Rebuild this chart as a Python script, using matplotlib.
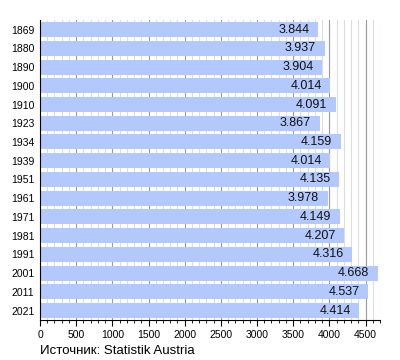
import matplotlib
matplotlib.use("Agg")
import matplotlib.pyplot as plt
from matplotlib.ticker import MultipleLocator

years = ["1869", "1880", "1890", "1900", "1910", "1923", "1934", "1939",
         "1951", "1961", "1971", "1981", "1991", "2001", "2011", "2021"]
population = [3844, 3937, 3904, 4014, 4091, 3867, 4159, 4014,
              4135, 3978, 4149, 4207, 4316, 4668, 4537, 4414]
xticks = [0, 500, 1000, 1500, 2000, 2500, 3000, 3500, 4000, 4500]

plt.rcParams['font.family'] = ['Liberation Sans', 'DejaVu Sans']

fig = plt.figure(figsize=(4, 3.6), dpi=100)
ax = fig.add_axes([0.1, 0.111, 0.85, 0.833])

n = len(years)
ypos = list(range(n))
ax.barh(ypos, population, height=0.8, color="#b3c8fc", zorder=2)
for y, v in zip(ypos, population):
    lbl = f"{v // 1000}.{v % 1000:03d}"
    ax.text(v - 120, y, lbl, ha="right", va="center", fontsize=9, color="#111111", zorder=3)

ax.set_ylim(n - 0.5, -0.5)
ax.set_xlim(0, 4700)
ax.set_yticks(ypos)
ax.set_yticklabels(years, fontsize=7.5)
ax.set_xticks(xticks)
ax.set_xticklabels([str(t) for t in xticks], fontsize=7.5)
ax.xaxis.set_minor_locator(MultipleLocator(100))

for x in range(100, 4701, 100):
    if x % 500 == 0:
        ax.axvline(x, color="#999999", lw=0.8, zorder=1)
    else:
        ax.axvline(x, color="#dddddd", lw=0.8, zorder=1)

for s in ["top", "right"]:
    ax.spines[s].set_visible(False)
ax.spines["left"].set_color("black")
ax.spines["bottom"].set_color("black")
ax.tick_params(axis="y", length=0, pad=4)
ax.tick_params(axis="x", which="major", length=4, width=0.8, pad=3)
ax.tick_params(axis="x", which="minor", length=2, width=0.6)

fig.text(0.1, 0.008, "Источник: Statistik Austria", fontsize=9.5, ha="left", va="bottom")

fig.savefig("out.png", dpi=100)
